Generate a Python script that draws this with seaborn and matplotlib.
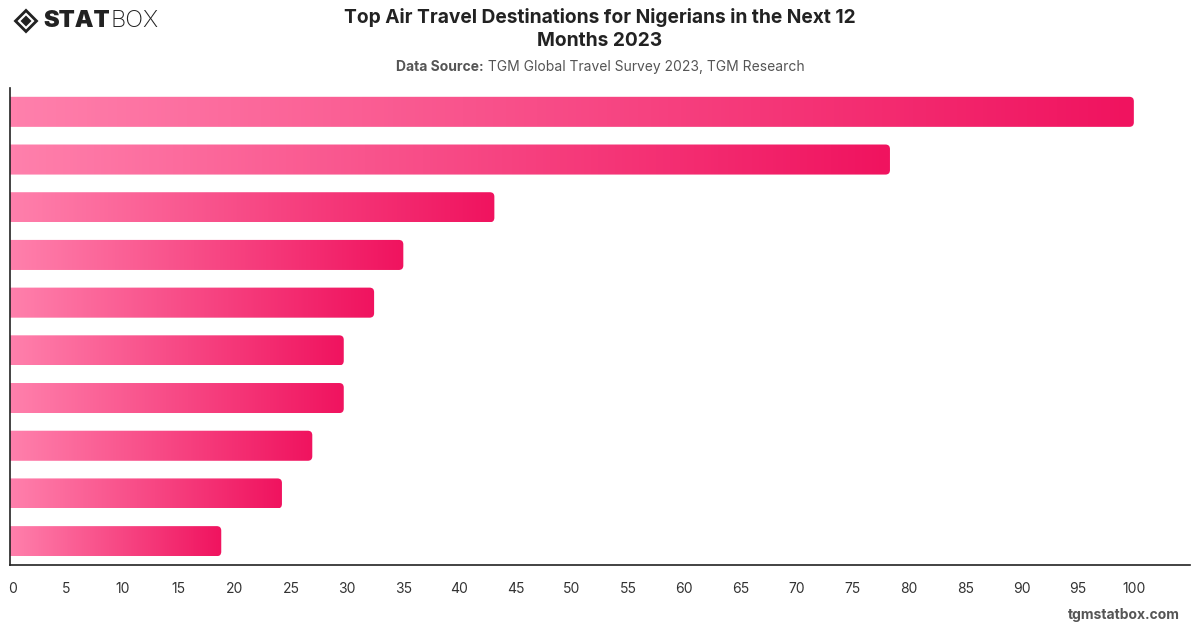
import numpy as np
import pandas as pd
import matplotlib
matplotlib.use("Agg")
import matplotlib.pyplot as plt
import matplotlib.transforms as mtransforms
import seaborn as sns
from matplotlib.path import Path
from matplotlib.patches import PathPatch, Polygon
from matplotlib.colors import LinearSegmentedColormap

destinations = ["Destination 1", "Destination 2", "Destination 3", "Destination 4",
                "Destination 5", "Destination 6", "Destination 7", "Destination 8",
                "Destination 9", "Destination 10"]
values = [100, 78.3, 43.1, 35.0, 32.4, 29.7, 29.7, 26.9, 24.2, 18.8]
xticks = list(range(0, 101, 5))

title = "Top Air Travel Destinations for Nigerians in the Next 12\nMonths 2023"
source_bold = "Data Source:"
source_text = " TGM Global Travel Survey 2023, TGM Research"

sns.set_theme(style="white")
plt.rcParams['font.family'] = ['Inter', 'DejaVu Sans']

df = pd.DataFrame({"dest": destinations, "value": values})

fig = plt.figure(figsize=(12, 6.28), dpi=100)
ax = fig.add_axes([0.0083, 0.1003, 0.9834, 0.7596])
sns.barplot(data=df, x="value", y="dest", ax=ax, color="#F0145F", width=0.63,
            orient="h")
ax.set_xlim(0, 105)
ax.set_ylim(len(values) - 0.5, -0.5)

cmap = LinearSegmentedColormap.from_list("pinkgrad", ["#FF80AC", "#F0135F"])
grad = np.linspace(0, 1, 256).reshape(1, -1)

fig.canvas.draw()
p0 = ax.transData.transform((0, 0))
p1 = ax.transData.transform((1, 1))
sx = abs(p1[0] - p0[0])
sy = abs(p1[1] - p0[1])
r_px = 4.5
rx = r_px / sx
ry = r_px / sy

for patch in list(ax.patches):
    x0 = patch.get_x()
    y0 = patch.get_y()
    w = patch.get_width()
    h = patch.get_height()
    patch.set_visible(False)
    x1 = x0 + w
    ya, yb = y0, y0 + h
    sgn = np.sign(yb - ya)
    verts = [(x0, ya), (x1 - rx, ya), (x1, ya), (x1, ya + ry * sgn),
             (x1, yb - ry * sgn), (x1, yb), (x1 - rx, yb), (x0, yb), (x0, ya)]
    codes = [Path.MOVETO, Path.LINETO, Path.CURVE3, Path.CURVE3,
             Path.LINETO, Path.CURVE3, Path.CURVE3, Path.LINETO, Path.CLOSEPOLY]
    clip = PathPatch(Path(verts, codes), facecolor="none", edgecolor="none",
                     transform=ax.transData)
    ax.add_patch(clip)
    im = ax.imshow(grad, cmap=cmap, aspect="auto",
                   extent=(x0, x1, max(ya, yb), min(ya, yb)),
                   interpolation="bilinear", zorder=2)
    im.set_clip_path(clip)

ax.set_xlim(0, 105)
ax.set_ylim(len(values) - 0.5, -0.5)

ax.set_xticks(xticks)
ax.set_xticklabels([str(t) for t in xticks], fontsize=10, color="#333333")
ax.set_yticks(range(len(values)))
ax.set_yticklabels([])
ax.tick_params(axis="both", length=0)
ax.tick_params(axis="x", pad=12)
first = ax.get_xticklabels()[0]
first.set_transform(first.get_transform() +
                    mtransforms.ScaledTranslation(3 / 100, 0, fig.dpi_scale_trans))
ax.set_xlabel("")
ax.set_ylabel("")
for s in ["top", "right"]:
    ax.spines[s].set_visible(False)
for s in ["left", "bottom"]:
    ax.spines[s].set_color("#222222")
    ax.spines[s].set_linewidth(1.2)
ax.grid(False)

# Title
fig.text(0.5, 1 - 29 / 628, title, ha="center", va="center", fontsize=13.8,
         fontweight="bold", color="#222222", linespacing=1.4)
# Source
t1 = fig.text(0.5, 1 - 67 / 628, source_bold, ha="right", va="center", fontsize=10,
              fontweight="bold", color="#555555")
t2 = fig.text(0.5, 1 - 67 / 628, source_text, ha="left", va="center", fontsize=10,
              color="#555555")
fig.canvas.draw()
bb = t1.get_window_extent()
bb2 = t2.get_window_extent()
shift = (bb.width - bb2.width) / 2 / 1200
t1.set_x(0.5 + shift)
t2.set_x(0.5 + shift)

# Footer
fig.text(1 - 20 / 1200, 1 - 615 / 628, "tgmstatbox.com", ha="right", va="center",
         fontsize=10, fontweight="bold", color="#555555")

# Logo
cx, cy = 26 / 1200, 1 - 21 / 628


def diamond(h, color):
    dx, dy = h / 1200, h / 628
    p = Polygon([(cx - dx, cy), (cx, cy + dy), (cx + dx, cy), (cx, cy - dy)],
                closed=True, transform=fig.transFigure, facecolor=color,
                edgecolor="none")
    fig.patches.append(p)


diamond(12.5, "#222222")
diamond(8.5, "white")
diamond(5.5, "#222222")
ts = fig.text(43 / 1200, cy, "STAT", ha="left", va="center", fontsize=17,
              fontweight="black", color="#222222")
fig.canvas.draw()
bbs = ts.get_window_extent()
fig.text(bbs.x1 / 1200 + 0.001, cy, "BOX", ha="left", va="center", fontsize=17,
         fontweight="light", color="#222222")

fig.savefig("out.png", dpi=100)
